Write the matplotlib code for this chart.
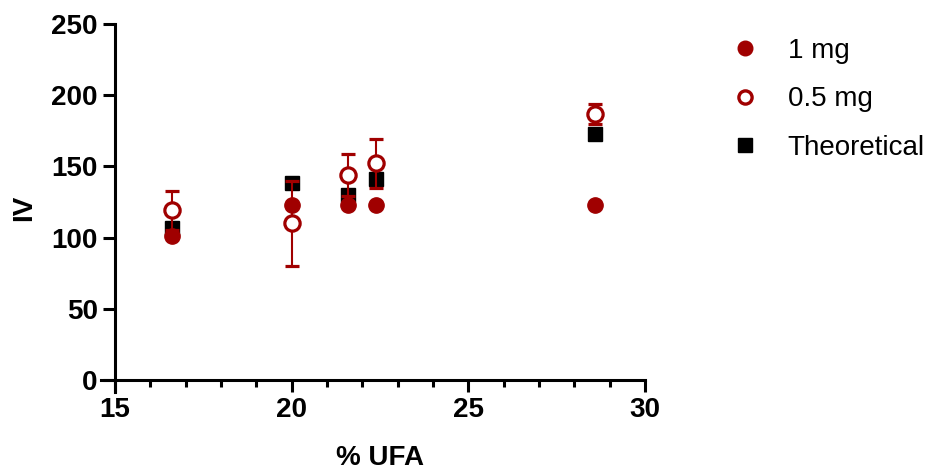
import numpy as np
import matplotlib
matplotlib.use("Agg")
import matplotlib.pyplot as plt
from matplotlib.lines import Line2D
from matplotlib.ticker import MultipleLocator

plt.rcParams["font.family"] = ["Liberation Sans", "DejaVu Sans"]

# data
ufa = [16.6, 20.0, 21.6, 22.4, 28.6]
iv_1mg = [101, 123, 123, 123, 123]
iv_05mg = [119, 110, 144, 152, 187]
iv_05mg_err = [14, 30, 15, 17, 7]
iv_theoretical = [107, 138, 130, 141, 173]

red = "#a00000"

fig = plt.figure(figsize=(9.3, 4.7), dpi=100)
ax = fig.add_axes([0.1085, 0.166, 0.6935 - 0.1085, 0.949 - 0.166])

ax.plot(ufa, iv_theoretical, "s", color="black", markersize=10, zorder=3)
ax.errorbar(ufa, iv_05mg, yerr=iv_05mg_err, fmt="o", color=red,
            markerfacecolor="white", markeredgecolor=red, markersize=11,
            markeredgewidth=2.3, elinewidth=1.5, capsize=5, capthick=1.5,
            zorder=4)
ax.plot(ufa, iv_1mg, "o", color=red, markersize=11, zorder=5)

ax.set_xlim(14.6, 30)
ax.set_ylim(-8.5, 250)
ax.spines["left"].set_position(("data", 15))
ax.spines["bottom"].set_position(("data", 0))
ax.spines["top"].set_visible(False)
ax.spines["right"].set_visible(False)
for s in ("left", "bottom"):
    ax.spines[s].set_linewidth(2.2)

ax.set_xticks([15, 20, 25, 30])
ax.xaxis.set_minor_locator(MultipleLocator(1))
ax.set_yticks([0, 50, 100, 150, 200, 250])
ax.tick_params(axis="both", which="major", width=2.2, length=8.5,
               labelsize=20, pad=4)
ax.tick_params(axis="x", which="minor", width=2.2, length=5)
for lbl in ax.get_xticklabels() + ax.get_yticklabels():
    lbl.set_fontweight("bold")

ax.set_xlabel("% UFA", fontsize=20, fontweight="bold")
ax.set_ylabel("IV", fontsize=20, fontweight="bold")
ax.xaxis.set_label_coords(0.513, -0.143)
ax.yaxis.set_label_coords(-0.118, 0.5)

handles = [
    Line2D([], [], ls="none", marker="o", color=red, markersize=10.5),
    Line2D([], [], ls="none", marker="o", markerfacecolor="white",
           markeredgecolor=red, markeredgewidth=2.4, markersize=9.5),
    Line2D([], [], ls="none", marker="s", color="black", markersize=9.5),
]
labels = ["1 mg", "0.5 mg", "Theoretical"]
fig.legend(handles, labels, loc="upper left", bbox_to_anchor=(0.759, 0.972),
           frameon=False, fontsize=20, labelspacing=0.8,
           handlelength=1.0, handletextpad=1.04)

fig.savefig("out.png", dpi=100)
